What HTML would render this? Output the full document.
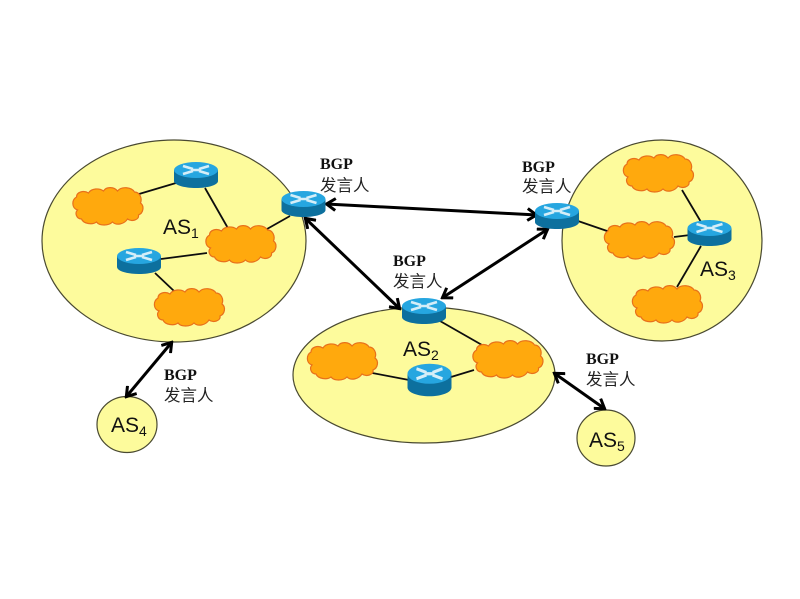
<!DOCTYPE html>
<html><head><meta charset="utf-8"><style>html,body{margin:0;padding:0;background:#fff}svg{display:block}
.b{font:bold 16px "Liberation Serif",serif;fill:#111}
.c{font:16.500px "Noto Sans CJK SC",sans-serif;fill:#222}
.a{font:21px "Liberation Sans",sans-serif;fill:#111}
.s{font-size:14px}</style></head><body>
<svg width="800" height="599" viewBox="0 0 800 599" xmlns="http://www.w3.org/2000/svg">
<defs>
<filter id="sf" x="-5%" y="-5%" width="110%" height="110%"><feGaussianBlur stdDeviation="0.35"/></filter>
<g id="cl"><path d="M-31-9C-31-14-24-16-19-13C-16-18-8-18-4-15C-1-20 7-19 10-15C14-20 24-19 27-14C32-14 35-8 33-3C37 0 36 7 31 9C32 14 24 16 20 13C17 18 9 20 5 16C1 20-8 20-11 16C-15 19-24 18-26 13C-31 13-33 7-30 4C-36 2-36-6-31-9Z" fill="#ffa90f" stroke="#e8701a" stroke-width="1.2"/></g>
<g id="rt"><path d="M-22-5V6C-22 10-12 13 0 13S22 10 22 6V-5Z" fill="#0d6f9e"/><ellipse cy="-5" rx="22" ry="8" fill="#27a6e0"/>
<path d="M-13-9L-3-6M-13-1L-3-4M13-9L3-6M13-1L3-4M-5-5H5" stroke="#d5eef8" stroke-width="2.6" fill="none"/></g>
<marker id="ar" viewBox="0 0 14 14" refX="12.500" refY="7" markerWidth="14" markerHeight="14" markerUnits="userSpaceOnUse" orient="auto-start-reverse"><path d="M3 1L12 7L3 13" fill="none" stroke="#000" stroke-width="3"/></marker>
</defs>
<g filter="url(#sf)">
<g fill="#fdfb9c" stroke="#4a4a30" stroke-width="1.2">
<ellipse cx="174" cy="241" rx="132" ry="101"/>
<ellipse cx="424" cy="375" rx="131" ry="68"/>
<ellipse cx="662" cy="240.5" rx="100" ry="100.5"/>
<ellipse cx="127" cy="424.5" rx="30" ry="28"/>
<ellipse cx="606" cy="438" rx="29" ry="28"/>
</g>
<g stroke="#111" stroke-width="1.8">
<path d="M139 194L176 183M205 188L229 230M267 229L290 216M161 259L207 253M155 273L174 291"/>
<path d="M440 321L482 345M367 372L409 380M451 377L474 370"/>
<path d="M682 190L701 222M578 221L610 232M674 237L690 235M701 246L677 287"/>
</g>
<g stroke="#000" stroke-width="3" fill="none">
<path d="M326 204L537 215" marker-start="url(#ar)" marker-end="url(#ar)"/>
<path d="M305 218L400 309" marker-start="url(#ar)" marker-end="url(#ar)"/>
<path d="M442 298L548 229" marker-start="url(#ar)" marker-end="url(#ar)"/>
<path d="M172 342L126 397" marker-start="url(#ar)" marker-end="url(#ar)"/>
<path d="M554 373L605 409" marker-start="url(#ar)" marker-end="url(#ar)"/>
</g>
<use href="#cl" x="107.500" y="206"/><use href="#cl" x="240.500" y="244"/><use href="#cl" x="189" y="307"/>
<use href="#cl" x="342" y="361"/><use href="#cl" x="507.500" y="359"/>
<use href="#cl" x="658" y="173"/><use href="#cl" x="639" y="240"/><use href="#cl" x="667" y="304"/>
<use href="#rt" x="196" y="175"/><use href="#rt" x="139" y="261"/><use href="#rt" x="303.500" y="204"/>
<use href="#rt" x="424" y="311"/><use href="#rt" transform="translate(429.500 380) scale(1 1.250)"/>
<use href="#rt" x="557" y="216"/><use href="#rt" x="709.500" y="233"/>
</g>
<text class="a" x="163" y="234">AS<tspan class="s" dy="4">1</tspan></text>
<text class="a" x="403" y="356">AS<tspan class="s" dy="4">2</tspan></text>
<text class="a" x="700" y="276">AS<tspan class="s" dy="4">3</tspan></text>
<text class="a" x="111" y="432">AS<tspan class="s" dy="4">4</tspan></text>
<text class="a" x="589" y="447">AS<tspan class="s" dy="4">5</tspan></text>
<text class="b" x="320" y="169">BGP</text><text class="c" x="320" y="191">发言人</text>
<text class="b" x="522" y="172">BGP</text><text class="c" x="522" y="192">发言人</text>
<text class="b" x="393" y="266">BGP</text><text class="c" x="393" y="287">发言人</text>
<text class="b" x="164" y="380">BGP</text><text class="c" x="164" y="401">发言人</text>
<text class="b" x="586" y="364">BGP</text><text class="c" x="586" y="385">发言人</text>
</svg>
</body></html>
